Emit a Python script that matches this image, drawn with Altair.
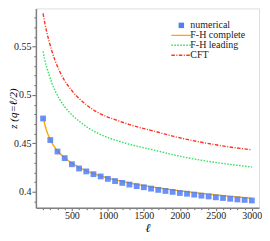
import altair as alt
import pandas as pd

# ---- data ----
L_num = [100, 200, 300, 400, 500, 600, 700, 800, 900, 1000,
         1100, 1200, 1300, 1400, 1500, 1600, 1700, 1800, 1900, 2000,
         2100, 2200, 2300, 2400, 2500, 2600, 2700, 2800, 2900, 3000]
z_num = [0.4757, 0.4534, 0.4415, 0.4347, 0.4284, 0.4240, 0.4210, 0.4181, 0.4158, 0.4133,
         0.4110, 0.4091, 0.4074, 0.4058, 0.4046, 0.4032, 0.4019, 0.4008, 0.3998, 0.3987,
         0.3979, 0.3970, 0.3959, 0.3951, 0.3942, 0.3935, 0.3927, 0.3920, 0.3915, 0.3909]

L_fh = [100, 150, 200, 300, 400, 500, 600, 700, 800, 900, 1000,
        1200, 1400, 1600, 1800, 2000, 2200, 2400, 2600, 2800, 3000]
z_fh = [0.4765, 0.4630, 0.4540, 0.4422, 0.4352, 0.4296, 0.4252, 0.4217, 0.4188, 0.4163, 0.4142,
        0.4106, 0.4076, 0.4051, 0.4029, 0.4009, 0.3991, 0.3975, 0.3960, 0.3946, 0.3932]

L_lead = [100, 120, 150, 180, 224, 270, 330, 400, 500, 600, 727, 850, 1000, 1121,
          1300, 1514, 1700, 1900, 2100, 2300, 2500, 2718, 3000]
z_lead = [0.5451, 0.5375, 0.5285, 0.5215, 0.5120, 0.5040, 0.4955, 0.4878, 0.4795, 0.4730,
          0.4660, 0.4608, 0.4560, 0.4530, 0.4490, 0.4452, 0.4420, 0.4383, 0.4352, 0.4325,
          0.4302, 0.4280, 0.4255]

L_cft = [100, 120, 150, 180, 224, 270, 330, 400, 500, 600, 727, 850, 1000, 1121,
         1300, 1514, 1700, 1900, 2100, 2300, 2500, 2718, 3000]
z_cft = [0.5843, 0.5758, 0.5653, 0.5565, 0.5450, 0.5350, 0.5245, 0.5148, 0.5045, 0.4965,
         0.4884, 0.4824, 0.4772, 0.4740, 0.4694, 0.4650, 0.4615, 0.4575, 0.4541, 0.4511,
         0.4485, 0.4460, 0.4433]

x_ticks = [100 * i for i in range(1, 31)]
y_ticks = [0.39, 0.40, 0.41, 0.42, 0.43, 0.44, 0.45, 0.46, 0.47, 0.48,
           0.49, 0.50, 0.51, 0.52, 0.53, 0.54, 0.55, 0.56, 0.57, 0.58]

series = ["numerical", "F-H complete", "F-H leading", "CFT"]
colors = ["#4f7ef5", "#ffa500", "#2ee05a", "#ff3320"]
dashes = [[1, 0], [1, 0], [1.5, 1.5], [3.5, 1.5, 1, 1.5]]

FONT = "Liberation Serif, Times New Roman, serif"

df_num = pd.DataFrame({"l": L_num, "z": z_num, "series": series[0]})
df_lines = pd.concat([
    pd.DataFrame({"l": L_fh, "z": z_fh, "series": series[1]}),
    pd.DataFrame({"l": L_lead, "z": z_lead, "series": series[2]}),
    pd.DataFrame({"l": L_cft, "z": z_cft, "series": series[3]}),
])

x_scale = alt.Scale(domain=[0, 3100], nice=False, zero=False)
y_scale = alt.Scale(domain=[0.3835, 0.5895], nice=False, zero=False)

x_axis = alt.Axis(
    values=x_ticks, title="ℓ", titleFont=FONT, titleFontStyle="italic",
    titleFontWeight="normal", titleFontSize=12, titlePadding=2,
    labelFont=FONT, labelFontSize=10, labelColor="#222", labelPadding=0,
    labelExpr="datum.value % 500 === 0 ? datum.label : ''", labelOverlap=False,
    labelFlush=False, format="d",
    tickSize={"condition": {"test": "datum.value % 500 === 0", "value": 3}, "value": 2},
    tickColor="#666", domainColor="#808080", domainWidth=1.5, grid=False,
)
y_axis = alt.Axis(
    values=y_ticks, title="z (q=ℓ/2)", titleFont=FONT, titleFontStyle="italic",
    titleFontWeight="normal", titleFontSize=11, titleX=-22, titleY=100,
    titleBaseline="middle",
    labelFont=FONT, labelFontSize=10, labelColor="#222", labelPadding=1,
    labelExpr="round(datum.value * 100) % 5 === 0 ? format(datum.value, '~g') : ''",
    labelOverlap=False,
    tickSize={"condition": {"test": "round(datum.value * 100) % 5 === 0", "value": 4}, "value": 2},
    tickColor="#666", domainColor="#808080", domainWidth=1.5, grid=False,
)


def sel(values):
    # per-entry legend expression chosen from the series list
    expr = repr(values[-1]) if not isinstance(values[-1], list) else str(values[-1])
    for s, v in reversed(list(zip(series[:-1], values[:-1]))):
        vv = repr(v) if not isinstance(v, list) else str(v)
        expr = f"datum.value === '{s}' ? {vv} : ({expr})"
    return alt.ExprRef(expr=expr)


legend = alt.Legend(
    orient="none", legendX=141, legendY=12, title=None, padding=0, rowPadding=-2,
    labelFont=FONT, labelFontSize=10, labelColor="#222", labelOffset=4,
    symbolType=sel(["square", "stroke", "stroke", "stroke"]),
    symbolSize=sel([30, 400, 400, 400]),
    symbolFillColor=sel([colors[0], "transparent", "transparent", "transparent"]),
    symbolStrokeColor=sel(["transparent", colors[1], colors[2], colors[3]]),
    symbolDash=sel(dashes),
    symbolStrokeWidth=sel([0, 1.4, 1.4, 1.4]),
    symbolOpacity=1,
)

color = alt.Color("series:N", scale=alt.Scale(domain=series, range=colors), legend=legend)

points = alt.Chart(df_num).mark_square(size=34, opacity=0.85).encode(
    x=alt.X("l:Q", scale=x_scale, axis=x_axis),
    y=alt.Y("z:Q", scale=y_scale, axis=y_axis),
    color=color,
)

lines = alt.Chart(df_lines).mark_line(strokeWidth=1.4, interpolate="monotone").encode(
    x=alt.X("l:Q", scale=x_scale, axis=x_axis),
    y=alt.Y("z:Q", scale=y_scale, axis=y_axis),
    color=color,
    strokeDash=alt.StrokeDash("series:N", scale=alt.Scale(domain=series, range=dashes),
                              legend=None),
)

chart = alt.layer(lines, points).properties(
    width=224, height=200, padding={"left": 0, "top": 0, "right": 0, "bottom": 0},
).configure_view(stroke="#808080", strokeWidth=1.5).configure(background="white", font=FONT)

chart.save("out.html", embed_options={"renderer": "svg", "actions": False})
